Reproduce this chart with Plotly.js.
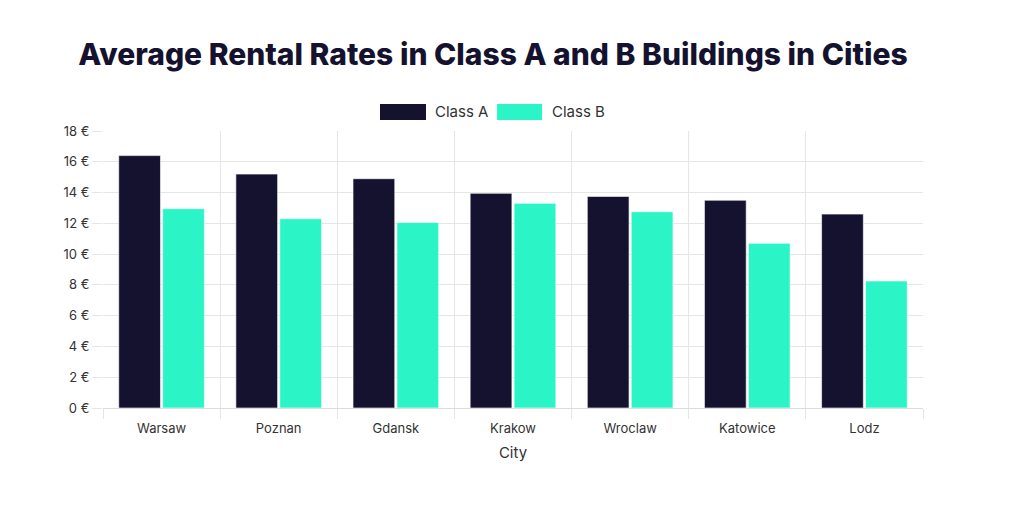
<!DOCTYPE html>
<html>
<head>
<meta charset="utf-8">
<script src="https://cdn.plot.ly/plotly-3.0.1.min.js"></script>
<style>html,body{margin:0;padding:0;background:#fff;}#chart{width:1024px;height:514px;}</style>
</head>
<body>
<div id="chart"></div>
<script>
const cities = ["Warsaw", "Poznan", "Gdansk", "Krakow", "Wroclaw", "Katowice", "Lodz"];
const seriesNames = ["Class A", "Class B"];
const classA = [16.4, 15.2, 14.9, 13.95, 13.75, 13.5, 12.6];
const classB = [12.95, 12.3, 12.05, 13.3, 12.75, 10.7, 8.25];
const yTicks = [0, 2, 4, 6, 8, 10, 12, 14, 16, 18];
const yTickLabels = yTicks.map(v => v + " €");
const colors = ["#14122f", "#2bf5c6"];

const traces = [
  {type: "bar", name: seriesNames[0], x: cities, y: classA,
   marker: {color: colors[0], line: {color: "rgba(255,255,255,0.6)", width: 1}},
   hoverinfo: "x+y"},
  {type: "bar", name: seriesNames[1], x: cities, y: classB,
   marker: {color: colors[1], line: {color: "rgba(255,255,255,0.6)", width: 1}},
   hoverinfo: "x+y"}
];

const font = "Inter, 'Noto Sans', sans-serif";
const layout = {
  width: 1024, height: 514,
  paper_bgcolor: "#fff", plot_bgcolor: "#fff",
  margin: {l: 103, r: 101, t: 131, b: 106},
  barmode: "group", bargap: 0.25, bargroupgap: 0.05,
  showlegend: false,
  title: {text: "Average Rental Rates in Class A and B Buildings in Cities",
          font: {family: font, size: 30, color: "#14122f", weight: 800},
          x: 0.4814, xref: "container", xanchor: "center",
          y: 0.893, yref: "container", yanchor: "middle"},
  xaxis: {type: "category", tickson: "boundaries", showgrid: true,
          gridcolor: "#e6e6e6", gridwidth: 1,
          ticks: "outside", ticklen: 10, tickcolor: "#e6e6e6",
          ticklabelstandoff: 8,
          showline: true, linecolor: "#dcdcdc", linewidth: 1,
          tickfont: {family: font, size: 13, color: "#333"},
          title: {text: "City", font: {family: font, size: 15, color: "#333"}, standoff: 12},
          fixedrange: true},
  yaxis: {range: [0, 18], tickmode: "array", tickvals: yTicks, ticktext: yTickLabels,
          showgrid: true, gridcolor: "#e6e6e6", gridwidth: 1,
          ticks: "outside", ticklen: 10, tickcolor: "#e6e6e6",
          zeroline: false, showline: false,
          tickfont: {family: font, size: 13, color: "#333"},
          fixedrange: true},
  shapes: [
    {type: "rect", xref: "paper", yref: "paper", x0: 0.3378, x1: 0.3939, y0: 1.0397, y1: 1.0975,
     fillcolor: colors[0], line: {width: 0}},
    {type: "rect", xref: "paper", yref: "paper", x0: 0.4805, x1: 0.5354, y0: 1.0397, y1: 1.0975,
     fillcolor: colors[1], line: {width: 0}}
  ],
  annotations: [
    {xref: "paper", yref: "paper", x: 0.4024, y: 1.0686, xanchor: "left", yanchor: "middle",
     text: seriesNames[0], showarrow: false, font: {family: font, size: 15, color: "#333"}},
    {xref: "paper", yref: "paper", x: 0.5451, y: 1.0686, xanchor: "left", yanchor: "middle",
     text: seriesNames[1], showarrow: false, font: {family: font, size: 15, color: "#333"}}
  ]
};

Plotly.newPlot("chart", traces, layout, {displayModeBar: false, responsive: false});
</script>
</body>
</html>
